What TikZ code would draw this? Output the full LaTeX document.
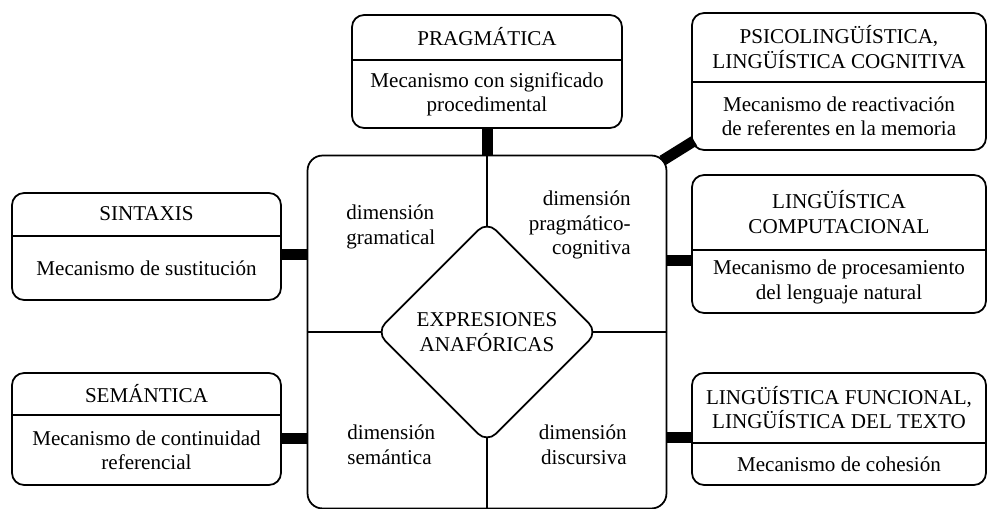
\documentclass[tikz,border=0pt]{standalone}
\usepackage{fontspec}
\setmainfont{Liberation Serif}
\usetikzlibrary{positioning,shapes.geometric}

\begin{document}
\begin{tikzpicture}[x=0.02cm,y=-0.02cm,
  font=\fontsize{12}{14}\selectfont,
  box/.style={draw,rectangle,rounded corners=0.24cm,line width=1pt},
  part/.style={rectangle,inner sep=0pt,align=center},
  sep/.style={line width=0.8pt},
  bar/.style={line width=0.22cm},
  dim/.style={inner sep=0pt}]
\useasboundingbox (0,0) rectangle (988,509);

%centre
\node [draw,rectangle,rounded corners=0.3cm,line width=1pt,minimum width=7.18cm,minimum height=7.06cm] (sq) at(487,332){};
\draw [sep](sq.north) -- (sq.south);
\draw [sep](sq.west) -- (sq.east);
\node [draw,diamond,aspect=1,rounded corners=0.25cm,fill=white,line width=1pt,minimum width=4.44cm,minimum height=4.44cm,inner sep=0pt,align=center] (ea) at(487,332){EXPRESIONES\\ANAFÓRICAS};

\node [dim,anchor=west,align=left] (gram) at(346,227){dimensión\\gramatical};
\node [dim,anchor=east,align=right] (prco) at(631,225){dimensión\\pragmático-\\cognitiva};
\node [dim,anchor=west,align=left] (sema) at(347,445){dimensión\\semántica};
\node [dim,anchor=east,align=right] (disc) at(627,445){dimensión\\discursiva};

%left
\node [box,minimum width=5.38cm,minimum height=2.14cm] (sin) at(146.5,246.5){};
\node [part,minimum width=5.38cm,minimum height=0.86cm,below=0pt of sin.north] (sint){SINTAXIS};
\node [part,minimum width=5.38cm,minimum height=1.28cm,below=0pt of sint] (sinb){Mecanismo de sustitución};
\draw [sep](sint.south west) -- (sint.south east);

\node [box,minimum width=5.38cm,minimum height=2.24cm] (sem) at(146.5,429){};
\node [part,minimum width=5.38cm,minimum height=0.84cm,below=0pt of sem.north] (semt){SEMÁNTICA};
\node [part,minimum width=5.38cm,minimum height=1.40cm,below=0pt of semt] (semb){Mecanismo de continuidad\\referencial};
\draw [sep](semt.south west) -- (semt.south east);

%top
\node [box,minimum width=5.40cm,minimum height=2.26cm] (prag) at(487,71.5){};
\node [part,minimum width=5.40cm,minimum height=0.90cm,below=0pt of prag.north] (pragt){PRAGMÁTICA};
\node [part,minimum width=5.40cm,minimum height=1.36cm,below=0pt of pragt] (pragb){Mecanismo con significado\\procedimental};
\draw [sep](pragt.south west) -- (pragt.south east);

%right
\node [box,minimum width=5.88cm,minimum height=2.74cm] (psi) at(839,81.5){};
\node [part,minimum width=5.88cm,minimum height=1.38cm,below=0pt of psi.north] (psit){PSICOLINGÜÍSTICA,\\LINGÜÍSTICA COGNITIVA};
\node [part,minimum width=5.88cm,minimum height=1.36cm,below=0pt of psit] (psib){Mecanismo de reactivación\\de referentes en la memoria};
\draw [sep](psit.south west) -- (psit.south east);

\node [box,minimum width=5.88cm,minimum height=2.76cm] (comp) at(839,244){};
\node [part,minimum width=5.88cm,minimum height=1.50cm,below=0pt of comp.north] (compt){LINGÜÍSTICA\\COMPUTACIONAL};
\node [part,minimum width=5.88cm,minimum height=1.26cm,below=0pt of compt] (compb){Mecanismo de procesamiento\\del lenguaje natural};
\draw [sep](compt.south west) -- (compt.south east);

\node [box,minimum width=5.88cm,minimum height=2.24cm] (fun) at(839,429){};
\node [part,minimum width=5.88cm,minimum height=1.40cm,below=0pt of fun.north] (funt){LINGÜÍSTICA FUNCIONAL,\\LINGÜÍSTICA DEL TEXTO};
\node [part,minimum width=5.88cm,minimum height=0.84cm,below=0pt of funt] (funb){Mecanismo de cohesión};
\draw [sep](funt.south west) -- (funt.south east);

%bars
\draw [bar](prag.south) -- (sq.north);
\draw [bar]([yshift=-0.16cm]sin.east) -- ([yshift=-0.16cm]sin.east -| sq.west);
\draw [bar]([yshift=-0.2cm]sem.east) -- ([yshift=-0.2cm]sem.east -| sq.west);
\draw [bar]([yshift=-0.34cm]comp.west) -- ([yshift=-0.34cm]comp.west -| sq.east);
\draw [bar]([yshift=-0.18cm]fun.west) -- ([yshift=-0.18cm]fun.west -| sq.east);
\draw [bar]([xshift=-0.1cm,yshift=-0.12cm]sq.north east) -- ([xshift=0.06cm,yshift=0.2cm]psi.south west);

\end{tikzpicture}
\end{document}
